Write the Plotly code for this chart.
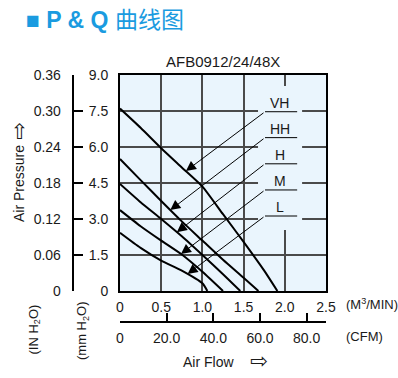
import plotly.graph_objects as go

# ---------------- data ----------------
flow_vh = [0, 0.25, 0.5, 0.75, 1.0, 1.25, 1.5, 1.75, 1.91]
pres_vh = [7.6, 6.8, 5.95, 5.15, 4.35, 3.2, 2.05, 0.85, 0]
flow_hh = [0, 0.25, 0.5, 0.75, 1.0, 1.25, 1.5, 1.68]
pres_hh = [5.5, 4.62, 3.75, 2.9, 2.1, 1.3, 0.55, 0]
flow_h = [0, 0.25, 0.5, 0.75, 1.0, 1.25, 1.46]
pres_h = [4.46, 3.7, 3.0, 2.28, 1.5, 0.7, 0]
flow_m = [0, 0.25, 0.5, 0.75, 1.0, 1.25]
pres_m = [3.37, 2.7, 2.1, 1.52, 0.8, 0]
flow_l = [0, 0.25, 0.5, 0.75, 1.0, 1.06]
pres_l = [2.43, 1.8, 1.27, 0.85, 0.32, 0]

series_names = ["VH", "HH", "H", "M", "L"]
tip_flow = [0.80, 0.61, 0.69, 0.74, 0.82]
tip_pres = [5.0, 3.37, 2.45, 1.54, 0.71]
label_pres = [7.47, 6.39, 5.30, 4.21, 3.125]

mm_ticks = [0, 1.5, 3.0, 4.5, 6.0, 7.5, 9.0]
mm_text = ["0", "1.5", "3.0", "4.5", "6.0", "7.5", "9.0"]
in_ticks = [0, 0.06, 0.12, 0.18, 0.24, 0.30, 0.36]
in_text = ["0", "0.06", "0.12", "0.18", "0.24", "0.30", "0.36"]
cmm_ticks = [0, 0.5, 1.0, 1.5, 2.0, 2.5]
cmm_text = ["0", "0.5", "1.0", "1.5", "2.0", "2.5"]
cfm_ticks = [0, 20, 40, 60, 80]
cfm_text = ["0", "20.0", "40.0", "60.0", "80.0"]
CFM_PER_CMM = 35.315

# ---------------- layout helpers ----------------
W, H = 398, 378


def px(x):
    return x / W


def py(y):
    return 1 - y / H


FONT = "Arial, Liberation Sans, sans-serif"
BLUE = "#1A9BE0"
INK = "#1a1a1a"
BG = "#EAF5FD"

fig = go.Figure()
for fx, fy, nm in [(flow_vh, pres_vh, "VH"), (flow_hh, pres_hh, "HH"),
                   (flow_h, pres_h, "H"), (flow_m, pres_m, "M"),
                   (flow_l, pres_l, "L")]:
    fig.add_trace(go.Scatter(x=fx, y=fy, mode="lines", name=nm,
                             line=dict(color="black", width=2, shape="spline", smoothing=0.6),
                             showlegend=False, hoverinfo="skip"))

# invisible traces to activate secondary axes
fig.add_trace(go.Scatter(x=[0], y=[0], yaxis="y2", mode="markers",
                         marker=dict(opacity=0), showlegend=False, hoverinfo="skip"))
fig.add_trace(go.Scatter(x=[0], y=[0], xaxis="x2", mode="markers",
                         marker=dict(opacity=0), showlegend=False, hoverinfo="skip"))

xdom = [px(120), px(326)]
ydom = [py(291), py(75)]

fig.update_layout(
    width=W, height=H,
    margin=dict(l=0, r=0, t=0, b=0, autoexpand=False),
    paper_bgcolor="white",
    plot_bgcolor=BG,
    font=dict(family=FONT, size=14, color=INK),
    xaxis=dict(domain=xdom, range=[0, 2.5], tickvals=cmm_ticks, ticktext=cmm_text,
               showgrid=True, gridcolor="#4a4a4a", gridwidth=1.5, zeroline=False,
               showline=True, linecolor="black", linewidth=2, mirror=True, automargin=False,
               ticks="", ticklabelstandoff=2, tickfont=dict(size=14, color=INK)),
    yaxis=dict(domain=ydom, range=[0, 9], tickvals=mm_ticks, ticktext=mm_text,
               showgrid=True, gridcolor="#4a4a4a", gridwidth=1.5, zeroline=False,
               showline=True, linecolor="black", linewidth=2, mirror=True, automargin=False,
               ticks="", ticklabelstandoff=7, tickfont=dict(size=14, color=INK)),
    yaxis2=dict(overlaying="y", anchor="free", position=px(72.7), side="left",
                range=[0, 0.36], tickvals=in_ticks, ticktext=in_text, automargin=False,
                showgrid=False, zeroline=False, showline=True, linecolor="black",
                linewidth=2, ticks="inside", ticklen=9, tickwidth=2, tickcolor="black",
                ticklabelstandoff=8, tickfont=dict(size=14, color=INK)),
    xaxis2=dict(overlaying="x", anchor="free", position=py(321.7), side="bottom",
                domain=xdom, range=[0, 2.5 * CFM_PER_CMM], tickvals=cfm_ticks, ticktext=cfm_text,
                showgrid=False, zeroline=False, showline=True, linecolor="black", automargin=False,
                linewidth=2, ticks="inside", ticklen=8, tickwidth=2, tickcolor="black",
                ticklabelstandoff=3, tickfont=dict(size=14, color=INK)),
)

# label background box covering gridlines
fig.add_shape(type="rect", xref="x", yref="y", x0=1.675, x1=2.21, y0=2.54, y1=8.54,
              fillcolor=BG, line=dict(width=0), layer="between")

# leader lines + labels
for nm, tx, ty, ly in zip(series_names, tip_flow, tip_pres, label_pres):
    fig.add_shape(type="line", xref="x", yref="y", x0=1.76, x1=2.15, y0=ly, y1=ly,
                  line=dict(color="black", width=1))
    fig.add_annotation(x=tx, y=ty, ax=1.76, ay=ly, axref="x", ayref="y", xref="x", yref="y",
                       text="", showarrow=True, arrowhead=2, arrowsize=2, arrowwidth=1,
                       arrowcolor="black", standoff=0)
    fig.add_annotation(x=1.94, y=ly + 0.36, xref="x", yref="y", text=nm, showarrow=False,
                       font=dict(size=14, color=INK), xanchor="center", yanchor="middle")


def label(x, y, text, size=13, xanchor="center", angle=0, family=FONT, color=INK):
    fig.add_annotation(x=px(x), y=py(y), xref="paper", yref="paper", text=text,
                       xanchor=xanchor, yanchor="middle", textangle=angle, showarrow=False,
                       font=dict(family=family, size=size, color=color))


label(24, 20, "<b>■ P &amp; Q</b> 曲线图", size=23, xanchor="left",
      family="Arial, Noto Sans CJK SC, sans-serif", color=BLUE)
label(223, 62, "AFB0912/24/48X", size=15)
label(344, 304, "(M<sup>3</sup>/MIN)", size=13, xanchor="left")
label(344, 336, "(CFM)", size=13, xanchor="left")
label(208, 362, "Air Flow", size=14)
label(259, 361, "⇨", size=21, family="DejaVu Sans")
label(19, 184, "Air Pressure", size=14, angle=-90)
label(19, 131, "⇨", size=21, angle=-90, family="DejaVu Sans")
label(33.5, 330, "(IN H<sub>2</sub>O)", size=13, angle=-90)
label(82, 331, "(mm H<sub>2</sub>O)", size=13, angle=-90)

fig.write_html("out.html", config={"displayModeBar": False},
               post_script="document.body.style.margin='0px';document.body.style.overflow='hidden';")
